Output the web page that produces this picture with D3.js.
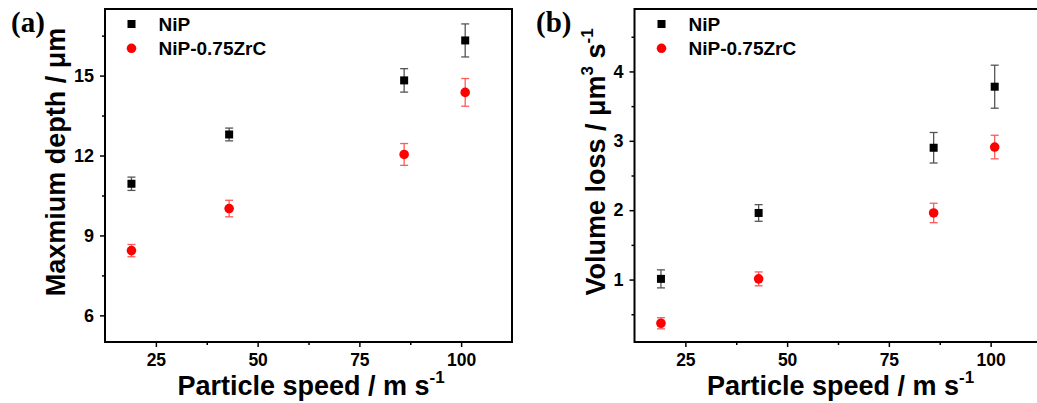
<!DOCTYPE html>
<html>
<head>
<meta charset="utf-8">
<script src="https://cdn.jsdelivr.net/npm/d3@7"></script>
<style>
	body { margin: 0; background: #fff; }
	text { font-family: "Liberation Sans", Arial, sans-serif; font-weight: bold; fill: #000; }
	.panel-tag { font-family: "Liberation Serif", "Times New Roman", serif; }
</style>
</head>
<body>
<div id="chart"></div>
<script>
const speeds = [19, 43, 86, 101];
const seriesNames = ["NiP", "NiP-0.75ZrC"];

// panel (a) maximum depth, um
const depthNiP = [10.94, 12.79, 14.82, 16.32];
const depthNiPErr = [0.25, 0.24, 0.44, 0.62];
const depthZrC = [8.43, 10.01, 12.04, 14.37];
const depthZrCErr = [0.23, 0.31, 0.41, 0.52];

// panel (b) volume loss, um^3 s^-1
const volNiP = [1.01, 1.96, 2.90, 3.78];
const volNiPErr = [0.13, 0.12, 0.22, 0.31];
const volZrC = [0.37, 1.01, 1.96, 2.91];
const volZrCErr = [0.08, 0.10, 0.14, 0.17];

const xTicks = [25, 50, 75, 100];
const depthTicks = [6, 9, 12, 15];
const volTicks = [1, 2, 3, 4];

const W = 1037, H = 403;
const svg = d3.select("#chart").append("svg")
	.attr("width", W)
	.attr("height", H);

function drawPanel(opts) {
	const left = opts.left, top = 9, pw = 407, ph = 333;
	const g = svg.append("g").attr("transform", "translate(" + left + "," + top + ")");

	const x = d3.scaleLinear().domain([12.5, 112.5]).range([0, pw]);
	const y = d3.scaleLinear().domain(opts.ydomain).range([ph, 0]);

	// minor ticks
	const xMinor = [37.5, 62.5, 87.5];
	g.append("g")
		.attr("transform", "translate(0," + ph + ")")
		.call(d3.axisBottom(x).tickValues(xMinor).tickSize(3).tickFormat(""))
		.call(s => s.select(".domain").remove())
		.selectAll("line").attr("stroke-width", 1.5);
	g.append("g")
		.call(d3.axisLeft(y).tickValues(opts.yminor).tickSize(3).tickFormat(""))
		.call(s => s.select(".domain").remove())
		.selectAll("line").attr("stroke-width", 1.5);

	const xa = g.append("g")
		.attr("transform", "translate(0," + ph + ")")
		.call(d3.axisBottom(x).tickValues(xTicks).tickSize(5).tickPadding(7).tickFormat(d => d))
		.call(s => s.select(".domain").remove());
	xa.selectAll("line").attr("stroke-width", 1.5);
	xa.selectAll("text").style("font-size", "17.5px").attr("fill", "#000");

	const ya = g.append("g")
		.call(d3.axisLeft(y).tickValues(opts.yticks).tickSize(5).tickPadding(6).tickFormat(d => d))
		.call(s => s.select(".domain").remove());
	ya.selectAll("line").attr("stroke-width", 1.5);
	ya.selectAll("text").style("font-size", "18px").attr("fill", "#000");

	// frame
	g.append("rect")
		.attr("width", pw).attr("height", ph)
		.attr("fill", "none").attr("stroke", "#000").attr("stroke-width", 2);

	const series = [
		{vals: opts.a, err: opts.aErr, color: "#000", errColor: "#555", shape: "square"},
		{vals: opts.b, err: opts.bErr, color: "#ff0000", errColor: "#ff5a5a", shape: "circle"}
	];

	series.forEach(s => {
		const pts = speeds.map((v, i) => ({x: v, y: s.vals[i], e: s.err[i]}));
		const eg = g.append("g").attr("stroke", s.errColor).attr("stroke-width", 1.3);
		eg.selectAll(".stem").data(pts).enter().append("line")
			.attr("x1", d => x(d.x)).attr("x2", d => x(d.x))
			.attr("y1", d => y(d.y - d.e)).attr("y2", d => y(d.y + d.e));
		eg.selectAll(".capt").data(pts).enter().append("line")
			.attr("x1", d => x(d.x) - 4).attr("x2", d => x(d.x) + 4)
			.attr("y1", d => y(d.y + d.e)).attr("y2", d => y(d.y + d.e));
		eg.selectAll(".capb").data(pts).enter().append("line")
			.attr("x1", d => x(d.x) - 4).attr("x2", d => x(d.x) + 4)
			.attr("y1", d => y(d.y - d.e)).attr("y2", d => y(d.y - d.e));

		if (s.shape == "square") {
			g.selectAll(null).data(pts).enter().append("rect")
				.attr("x", d => x(d.x) - 4).attr("y", d => y(d.y) - 4)
				.attr("width", 8).attr("height", 8).attr("fill", s.color);
		} else {
			g.selectAll(null).data(pts).enter().append("circle")
				.attr("cx", d => x(d.x)).attr("cy", d => y(d.y))
				.attr("r", 4.8).attr("fill", s.color);
		}
	});

	// legend
	const lg = g.append("g").attr("transform", "translate(" + opts.legX + ",0)");
	lg.append("rect").attr("x", -4).attr("y", 11).attr("width", 8).attr("height", 8).attr("fill", "#000");
	lg.append("circle").attr("cx", 0).attr("cy", 39.3).attr("r", 4.8).attr("fill", "#ff0000");
	lg.append("text").attr("x", 27).attr("y", 22).style("font-size", "19px").text(seriesNames[0]);
	lg.append("text").attr("x", 27).attr("y", 46).style("font-size", "19px").text(seriesNames[1]);

	// x title
	const xt = svg.append("text")
		.attr("x", left + 206).attr("y", 395)
		.attr("text-anchor", "middle")
		.style("font-size", "27px");
	xt.append("tspan").text("Particle speed / m s");
	xt.append("tspan").attr("dy", -12).style("font-size", "17px").text("-1");

	// y title
	const yt = svg.append("text")
		.attr("transform", "translate(" + opts.ytX + "," + opts.ytY + ") rotate(-90)")
		.attr("text-anchor", "middle")
		.style("font-size", "27px");
	opts.ytitle(yt);

	svg.append("text").attr("class", "panel-tag")
		.attr("x", opts.tagX).attr("y", 32)
		.style("font-size", "29px")
		.text(opts.tag);
}

drawPanel({
	left: 105, ydomain: [5, 17.5], yticks: depthTicks, yminor: [7.5, 10.5, 13.5, 16.5],
	a: depthNiP, aErr: depthNiPErr, b: depthZrC, bErr: depthZrCErr,
	legX: 26.5, tag: "(a)", tagX: 11, ytX: 65, ytY: 162,
	ytitle: t => t.text("Maxmium depth / μm")
});

drawPanel({
	left: 634.5, ydomain: [0.1, 4.9], yticks: volTicks, yminor: [0.5, 1.5, 2.5, 3.5, 4.5],
	a: volNiP, aErr: volNiPErr, b: volZrC, bErr: volZrCErr,
	legX: 27, tag: "(b)", tagX: 536, ytX: 605, ytY: 162,
	ytitle: t => {
		t.append("tspan").text("Volume loss / μm");
		t.append("tspan").attr("dy", -12).style("font-size", "17px").text("3");
		t.append("tspan").attr("dy", 12).text(" s");
		t.append("tspan").attr("dy", -12).style("font-size", "17px").text("-1");
	}
});
</script>
</body>
</html>
